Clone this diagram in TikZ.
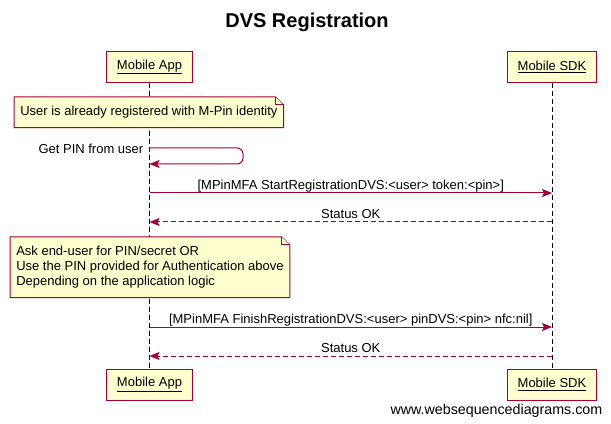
\documentclass[tikz,border=0pt]{standalone}
\usepackage{fontspec}
\setmainfont{Liberation Sans}
\usetikzlibrary{arrows.meta,positioning}

\definecolor{wsdred}{HTML}{A80036}
\definecolor{wsdfill}{HTML}{FEFECE}

\pgfdeclarelayer{lines}
\pgfdeclarelayer{notes}
\pgfsetlayers{lines,notes,main}

\tikzset{
	actor/.style={draw=wsdred, fill=wsdfill, line width=0.75pt, inner xsep=7.5pt, minimum height=23.25pt, font=\fontsize{9.75}{12}\selectfont},
	notebox/.style={inner xsep=4.5pt, inner ysep=0pt, anchor=north west, align=left, font=\fontsize{9.75}{11.25}\selectfont},
	noteline/.style={draw=wsdred, fill=wsdfill, line width=0.75pt},
	lifeline/.style={black, line width=0.75pt, dash pattern=on 3.75pt off 2.25pt},
	msg/.style={wsdred, line width=0.75pt, ->},
	reply/.style={msg, dash pattern=on 3.75pt off 2.25pt},
	msglabel/.style={midway, anchor=base, yshift=2.5pt, text=black, font=\fontsize{9.75}{12}\selectfont},
}

\begin{document}
\begin{tikzpicture}[x=0.75pt, y=-0.75pt, >={Stealth[length=7.5pt, width=6pt, inset=1.5pt]}]

	\useasboundingbox (0,0) rectangle (611,424);

	\node[font=\fontsize{15}{18}\bfseries] (title) at (307,22.5) {DVS Registration};

	% participants, top and bottom
	\node[actor] (appTop) at (149.5,67) {\underline{Mobile App}};
	\node[actor] (sdkTop) at (552,67) {\underline{Mobile SDK}};
	\node[actor] (appBot) at (149.5,384.5) {\underline{Mobile App}};
	\node[actor] (sdkBot) at (552,384.5) {\underline{Mobile SDK}};

	\begin{pgfonlayer}{lines}
		\foreach \p in {app, sdk} {
				\draw[lifeline] (\p Top) -- (\p Bot);
			}
	\end{pgfonlayer}

	% first note
	\node[notebox, minimum height=22.5pt] (noteA) at (14,97) {User is already registered with M-Pin identity};

	% self message
	\coordinate (selfA) at (149.5,148);
	\coordinate (selfB) at (149.5,164);
	\draw[msg, rounded corners=4.5pt] (selfA) -- (243,148) -- (243,164) -- (selfB);
	\node[anchor=east, font=\fontsize{9.75}{12}\selectfont] (selfLbl) at (148,148.5) {Get PIN from user};

	\coordinate (appA) at (149.5,193);
	\coordinate (sdkA) at (552,193);
	\coordinate (appB) at (149.5,222);
	\coordinate (sdkB) at (552,222);
	\draw[msg] (appA) -- (sdkA) node[msglabel] (startLbl) {[MPinMFA StartRegistrationDVS:<user> token:<pin>]};
	\draw[reply] (sdkB) -- (appB) node[msglabel] (okA) {Status OK};

	% second note
	\node[notebox, minimum height=45pt] (noteB) at (10,237) {Ask end-user for PIN/secret OR\\Use the PIN provided for Authentication above\\Depending on the application logic};

	\coordinate (appC) at (149.5,327);
	\coordinate (sdkC) at (552,327);
	\coordinate (appD) at (149.5,356);
	\coordinate (sdkD) at (552,356);
	\draw[msg] (appC) -- (sdkC) node[msglabel] (finishLbl) {[MPinMFA FinishRegistrationDVS:<user> pinDVS:<pin> nfc:nil]};
	\draw[reply] (sdkD) -- (appD) node[msglabel] (okB) {Status OK};

	% note outlines with folded corner
	\begin{pgfonlayer}{notes}
		\foreach \n in {noteA, noteB} {
				\draw[noteline] (\n.south west) -- (\n.north west) -- ([xshift=-6pt]\n.north east)
					-- ([yshift=-6pt]\n.north east) -- (\n.south east) -- cycle;
				\draw[noteline] ([xshift=-6pt]\n.north east) -- ([xshift=-6pt, yshift=-6pt]\n.north east)
					-- ([yshift=-6pt]\n.north east);
			}
	\end{pgfonlayer}

	\node[anchor=east, font=\fontsize{10.7}{12}\selectfont] (footer) at (607,410.5) {www.websequencediagrams.com};
\end{tikzpicture}
\end{document}
